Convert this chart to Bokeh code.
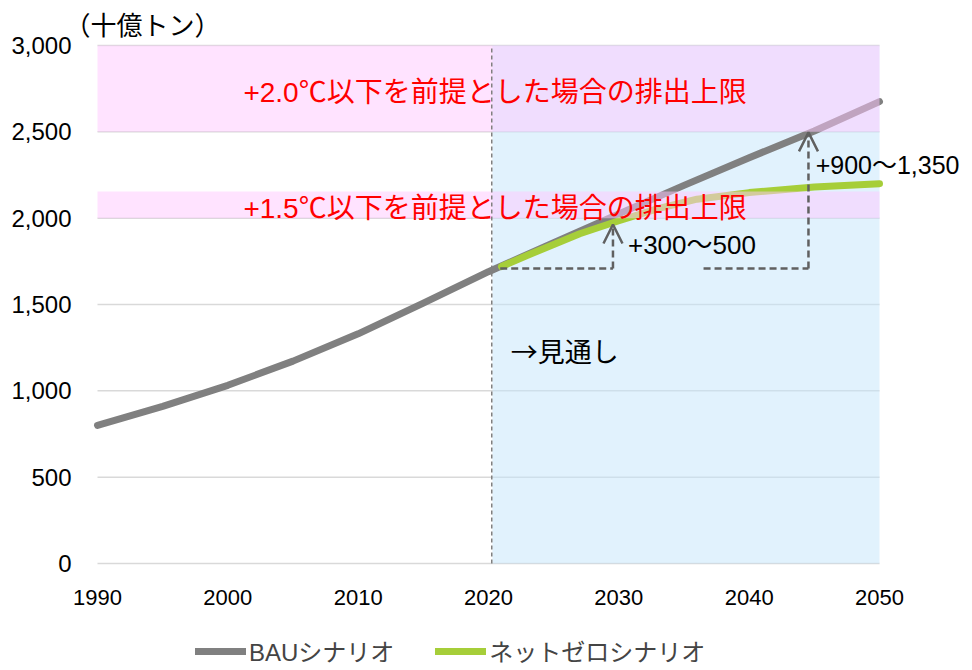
from bokeh.plotting import figure
from bokeh.models import Legend, LegendItem, Arrow, OpenHead
from bokeh.core.properties import value
from bokeh.embed import file_html
from bokeh.resources import INLINE

# ---- data ----
bau_years = [1990, 1995, 2000, 2005, 2010, 2015, 2020, 2025, 2030, 2035, 2040, 2045, 2050]
bau_values = [800, 910, 1032, 1172, 1330, 1508, 1690, 1858, 2025, 2190, 2350, 2505, 2675]

nz_years = [2021, 2023, 2025, 2027, 2030, 2033, 2036, 2040, 2045, 2050]
nz_values = [1720, 1785, 1848, 1910, 1985, 2055, 2110, 2148, 2180, 2200]

x_ticks = [1990, 2000, 2010, 2020, 2030, 2040, 2050]
x_tick_labels = ["1990", "2000", "2010", "2020", "2030", "2040", "2050"]
y_ticks = [0, 500, 1000, 1500, 2000, 2500, 3000]
y_tick_labels = ["0", "500", "1,000", "1,500", "2,000", "2,500", "3,000"]

band_20 = (2500, 3000)   # +2.0°C limit band
band_15 = (2000, 2155)   # +1.5°C limit band
outlook_start = 2020.3
divider_year = 2020.25
x_first, x_last = 1990, 2050
y_top = 3000

unit_label = "（十億トン）"
label_20 = "+2.0℃以下を前提とした場合の排出上限"
label_15 = "+1.5℃以下を前提とした場合の排出上限"
label_outlook = "→見通し"
label_gap1 = "+300〜500"
label_gap2 = "+900〜1,350"
series_names = ["BAUシナリオ", "ネットゼロシナリオ"]

LAT = "Liberation Sans, Noto Sans CJK JP"
CJK = "Noto Sans CJK JP"

# The whole canvas is the plotting frame so that no text is clipped; the data
# area sits inside it (left 97px, top 45px, 782 x 518 px).
CANVAS_W, CANVAS_H = 966, 668
DATA_LEFT, DATA_TOP, DATA_W, DATA_H = 97, 45, 782, 518
px_x = DATA_W / (x_last - x_first)
px_y = DATA_H / y_top
x0 = x_first - DATA_LEFT / px_x
y1 = y_top + DATA_TOP / px_y
p = figure(frame_width=CANVAS_W, frame_height=CANVAS_H,
           x_range=(x0, x0 + CANVAS_W / px_x), y_range=(y1 - CANVAS_H / px_y, y1),
           output_backend="svg", toolbar_location=None,
           min_border_left=0, min_border_right=0, min_border_top=0, min_border_bottom=0)
p.outline_line_color = None
p.background_fill_color = "white"
p.xaxis.visible = False
p.yaxis.visible = False
p.xgrid.grid_line_color = None
p.ygrid.grid_line_color = None

# horizontal gridlines limited to the data area
p.segment(x0=[x_first] * len(y_ticks), x1=[x_last] * len(y_ticks), y0=y_ticks, y1=y_ticks,
          line_color="#d9d9d9", line_width=1.5)

# tick labels
p.text(x=x_ticks, y=[-34 / px_y] * len(x_ticks), text=x_tick_labels, text_color="black",
       text_font_size="22px", text_font=value(LAT), text_align="center",
       text_baseline="middle")
p.text(x=[x_first - 26 / px_x] * len(y_ticks), y=y_ticks, text=y_tick_labels,
       text_color="black", text_font_size="24px", text_font=value(LAT), text_align="right",
       text_baseline="middle")

# unit label
p.text(x=[x_first - 33 / px_x], y=[y_top + 22 / px_y], text=[unit_label], text_color="black",
       text_font_size="26px", text_font=value(CJK), text_align="left", text_baseline="middle")

# outlook region (blue)
p.quad(left=[outlook_start], right=[x_last], bottom=[0], top=[y_top],
       fill_color="#c3e5fb", fill_alpha=0.5, line_color=None)

# lines
r_bau = p.line(bau_years, bau_values, line_color="#808080", line_width=7, line_cap="round",
               line_join="round")
r_nz = p.line(nz_years, nz_values, line_color="#a6ce39", line_width=7, line_cap="round",
              line_join="round")

# limit bands (semi transparent over lines)
p.quad(left=[x_first, x_first], right=[x_last, x_last], bottom=[band_20[0], band_15[0]],
       top=[band_20[1], band_15[1]], fill_color="#ffc8ff", fill_alpha=0.5, line_color=None)

# divider
p.line([divider_year, divider_year], [0, y_top], line_color="#808080", line_width=1.5,
       line_dash="4 3")

# gap arrows
arrow_col = "#606060"
p.line([2020.9, 2029.55], [1708, 1708], line_color=arrow_col, line_width=2.5, line_dash="7 4")
p.add_layout(Arrow(x_start=2029.55, y_start=1708, x_end=2029.55, y_end=1963,
                   line_color=arrow_col, line_width=2.5, line_dash="7 4",
                   end=OpenHead(line_color=arrow_col, line_width=2.5, size=19)))
p.line([2036.5, 2044.55], [1708, 1708], line_color=arrow_col, line_width=2.5, line_dash="7 4")
p.add_layout(Arrow(x_start=2044.55, y_start=1708, x_end=2044.55, y_end=2497,
                   line_color=arrow_col, line_width=2.5, line_dash="7 4",
                   end=OpenHead(line_color=arrow_col, line_width=2.5, size=19)))

# texts
p.text(x=[2020.5], y=[2725], text=[label_20], text_color="#ff0000", text_font_size="28px",
       text_font=value(LAT), text_align="center", text_baseline="middle")
p.text(x=[2020.5], y=[2058], text=[label_15], text_color="#ff0000", text_font_size="28px",
       text_font=value(LAT), text_align="center", text_baseline="middle")
p.text(x=[2021.7], y=[1235], text=[label_outlook], text_color="black", text_font_size="27px",
       text_font=value(CJK), text_align="left", text_baseline="middle")
p.text(x=[2030.7], y=[1843], text=[label_gap1], text_color="black", text_font_size="26px",
       text_font=value(LAT), text_align="left", text_baseline="middle")
p.text(x=[2045.1], y=[2307], text=[label_gap2], text_color="black", text_font_size="25px",
       text_font=value(LAT), text_align="left", text_baseline="middle")

# legend at the bottom of the canvas
legend = Legend(items=[LegendItem(label=series_names[0], renderers=[r_bau]),
                       LegendItem(label=series_names[1], renderers=[r_nz])],
                orientation="horizontal", location=(DATA_LEFT + 98, 0),
                label_text_font=LAT, label_text_font_size="24px",
                glyph_width=51, glyph_height=20, label_standoff=3, spacing=41,
                border_line_color=None, background_fill_alpha=0, margin=0, padding=0)
p.add_layout(legend, "center")

open("out.html", "w").write(file_html(p, INLINE))
